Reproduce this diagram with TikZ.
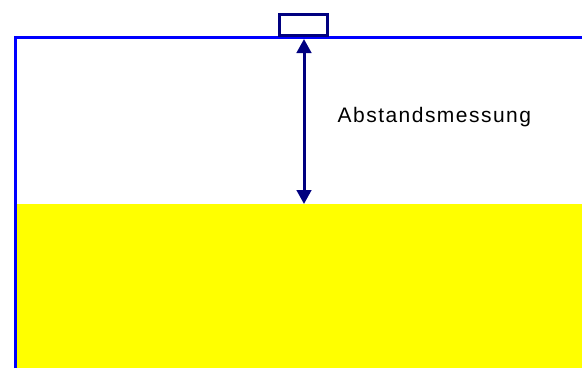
\documentclass[tikz,border=0pt]{standalone}
\usepackage{fontspec}
\setmainfont{Liberation Sans}
\newfontfamily\lblfont[LetterSpace=7]{Liberation Sans}
\usetikzlibrary{arrows.meta}
\definecolor{wall}{HTML}{0000FF}
\definecolor{navy}{HTML}{000080}
\definecolor{liquid}{HTML}{FFFF00}
\tikzset{
  tankwall/.style={draw=wall, line width=3pt},
  sensorbox/.style={draw=navy, fill=white, line width=3pt, minimum width=48pt, minimum height=21.5pt, inner sep=0pt},
  measure/.style={draw=navy, line width=3pt, {Triangle[length=14pt,width=14.5pt]}-{Triangle[length=14pt,width=14.5pt]}},
  lbl/.style={font=\lblfont\fontsize{21}{25}\selectfont, inner sep=0pt, anchor=base west}
}
\begin{document}
\begin{tikzpicture}[x=1pt,y=-1pt]
  \useasboundingbox (0,0) rectangle (582,368);
  % liquid filling
  \fill[liquid] (17,204) rectangle (582,368);
  % tank wall
  \draw[tankwall] (15.5,368) -- (15.5,37.5) -- (582,37.5);
  % sensor on top of the tank
  \node[sensorbox] (sensor) at (303.5,25) {};
  \coordinate (surface) at (304,204);
  \coordinate (top) at (304,39);
  % distance arrow
  \draw[measure] (top) -- (surface);
  \node[lbl] (label) at (337.5,122.5) {Abstandsmessung};
\end{tikzpicture}
\end{document}
